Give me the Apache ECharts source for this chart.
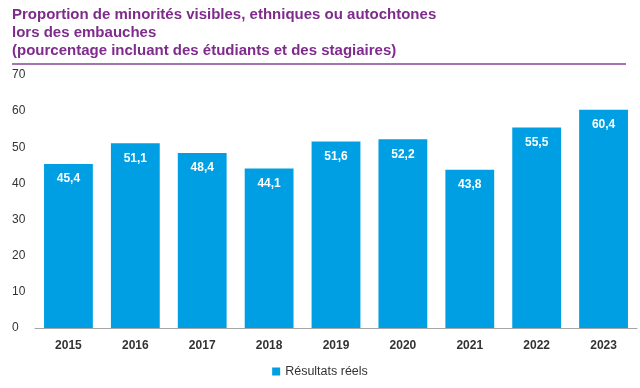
<!DOCTYPE html>
<html><head><meta charset="utf-8">
<script src="https://cdn.jsdelivr.net/npm/echarts@6/dist/echarts.min.js"></script>
<style>html,body{margin:0;padding:0;background:#fff}#c{width:640px;height:388px}</style>
</head><body><div id="c"></div>
<script>
const categories = ['2015','2016','2017','2018','2019','2020','2021','2022','2023'];
const values = [45.4, 51.1, 48.4, 44.1, 51.6, 52.2, 43.8, 55.5, 60.4];
const yTicks = [0,10,20,30,40,50,60,70];
const seriesName = 'Résultats réels';
const titleText = 'Proportion de minorités visibles, ethniques ou autochtones\nlors des embauches\n(pourcentage incluant des étudiants et des stagiaires)';

const chart = echarts.init(document.getElementById('c'));
chart.setOption({
  animation: false,
  title: {
    text: titleText, left: 7, top: 1,
    textStyle: {fontFamily: 'Liberation Sans, Arial', fontSize: 15, fontWeight: 'bold', color: '#7E2B8C', lineHeight: 18}
  },
  graphic: [{type: 'rect', shape: {x: 12, y: 63, width: 614, height: 2}, style: {fill: '#A574B0'}}],
  grid: {left: 35, right: 3, top: 75, bottom: 60},
  legend: {
    bottom: 5, left: 'center', itemWidth: 8, itemHeight: 8, itemGap: 4,
    icon: 'rect',
    textStyle: {fontFamily: 'Liberation Sans, Arial', fontSize: 12.5, color: '#333'},
    data: [seriesName]
  },
  xAxis: {
    type: 'category', data: categories,
    axisLine: {lineStyle: {color: '#A6A6A6', width: 1}},
    axisTick: {show: false},
    axisLabel: {fontFamily: 'Liberation Sans, Arial', fontSize: 12, fontWeight: 'bold', color: '#333', margin: 12}
  },
  yAxis: {
    type: 'value', min: 0, max: 70, interval: 10,
    axisLabel: {fontFamily: 'Liberation Sans, Arial', fontSize: 12, color: '#333', align: 'left', margin: 23,
      formatter: v => yTicks.includes(v) ? String(v) : ''},
    splitLine: {show: false}, axisLine: {show: false}, axisTick: {show: false}
  },
  series: [{
    name: seriesName, type: 'bar', data: values, barWidth: '73%',
    itemStyle: {color: '#009FE3'},
    label: {show: true, position: 'insideTop', distance: 9, color: '#fff', fontWeight: 'bold',
      fontFamily: 'Liberation Sans, Arial', fontSize: 12,
      formatter: p => p.value.toFixed(1).replace('.', ',')}
  }]
});
</script></body></html>
